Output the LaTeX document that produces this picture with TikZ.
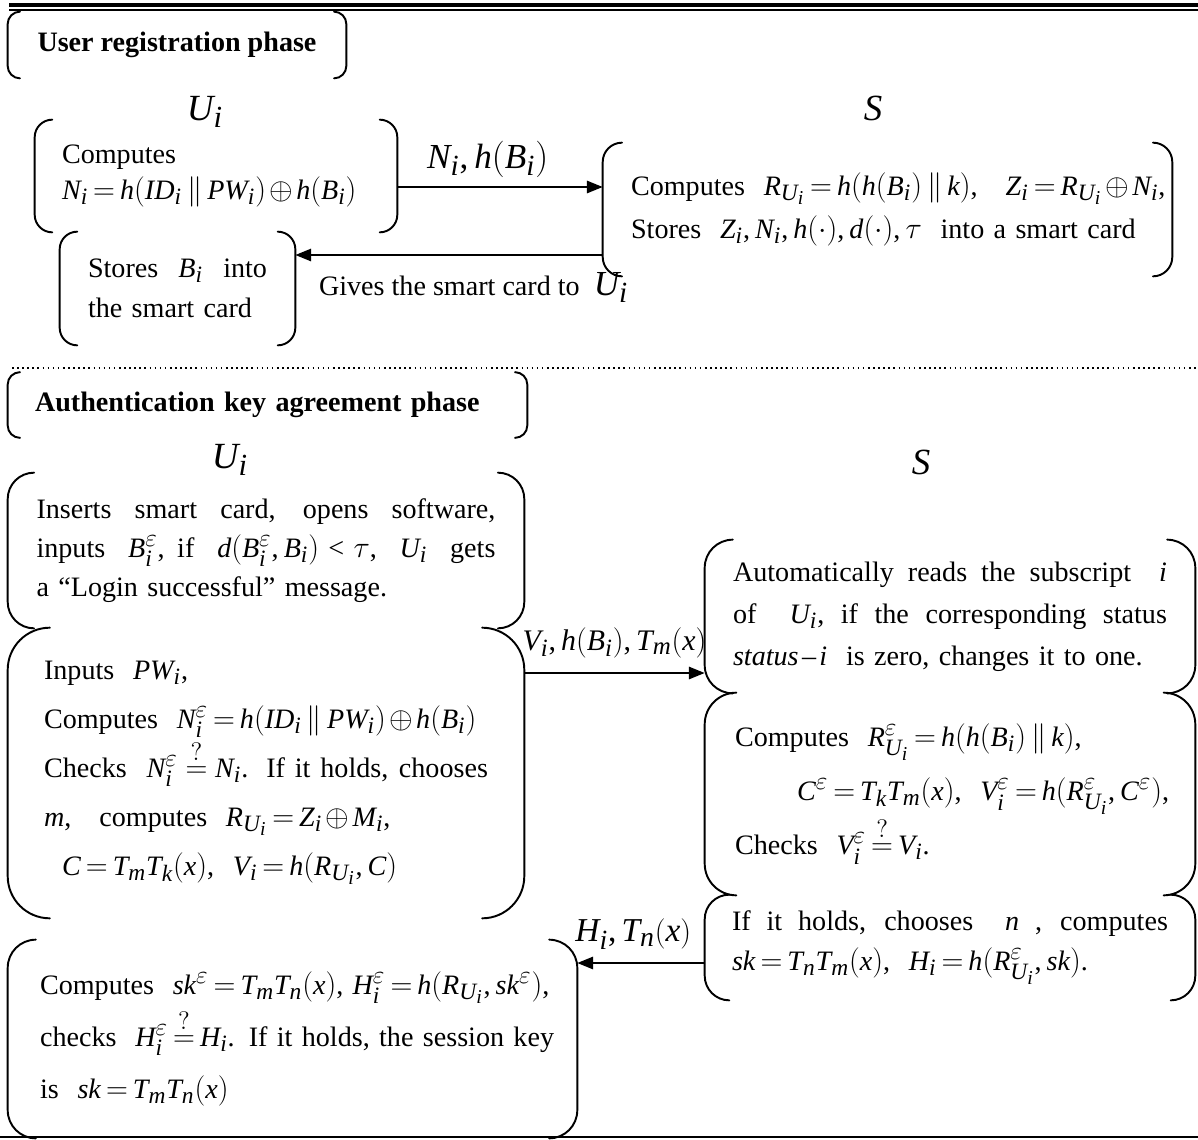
\documentclass[tikz,border=0pt]{standalone}
\usepackage{amsmath}
\usepackage{fontspec}
\setmainfont{Liberation Serif}
\usepackage[italic]{mathastext}
\usetikzlibrary{arrows.meta,calc,positioning}
\thickmuskip=3mu plus 2mu
\medmuskip=2mu plus 1mu
\newcommand{\jl}[1]{{\spaceskip=0pt\xspaceskip=0pt\makebox[\hsize][s]{#1}}}
\newcommand{\bracketsof}[2][12pt]{%
  \draw[brline, rounded corners=#1] ([xshift=#1]#2.north west) -- (#2.north west)
    -- (#2.south west) -- ([xshift=#1]#2.south west);
  \draw[brline, rounded corners=#1] ([xshift=-#1]#2.north east) -- (#2.north east)
    -- (#2.south east) -- ([xshift=-#1]#2.south east);}
\tikzset{
  % bracket outline
  brline/.style = {line width=1.1pt, line cap=round},
  brbox/.style  = {inner sep=0pt, align=left,
                   execute at begin node=\setlength{\parindent}{0pt}},
  lsp/.style    = {font=\fontsize{16}{#1}\selectfont},
  % messages
  msg/.style    = {line width=1.1pt, -{Triangle[length=9pt,width=7pt]}},
  msglab/.style = {font=\fontsize{#1}{#1}\selectfont, inner sep=1pt},
  % labels
  role/.style   = {font=\fontsize{21}{25}\selectfont, inner sep=0pt},
  phase/.style  = {font=\fontsize{16}{20}\selectfont\bfseries, inner sep=0pt},
}

\begin{document}
\begin{tikzpicture}[x=0.02cm, y=-0.02cm]
  \useasboundingbox (0,0) rectangle (1198,1140);
  % frame lines
  \draw[line width=2.2pt] (9,5) -- (1198,5);
  \draw[line width=0.7pt] (9,10) -- (1198,10);
  \draw[dotted, line width=0.9pt] (12,368) -- (1198,368);
  \draw[line width=1.6pt] (0,1137) -- (1198,1137);

  % ---------- User registration phase ----------
  \node[phase, minimum width=6.76cm, minimum height=1.32cm] (t1) at (177,45) {User registration phase};
  \bracketsof[7pt]{t1}
  \node[role] (ur) at (205,112) {$U_i$};
  \node[role] (sr) at (873,108) {$S$};

  \node[brbox, lsp=20, minimum width=7.24cm, minimum height=2.24cm, text width=6.16cm] (r1) at (216,176)
    {Computes\\ \mbox{$N_i = h(ID_i \,\|\, PW_i) \oplus h(B_i)$}};
  \bracketsof[10pt]{r1}
  \node[brbox, lsp=24.5, minimum width=11.38cm, minimum height=2.66cm, text width=10.26cm] (rs) at (887.5,209.5)
    {\mbox{Computes\ \ $R_{U_i} = h(h(B_i)\,\|\,k)$,\ \ \ $Z_i = R_{U_i} \oplus N_i$,}\\
     \mbox{Stores\ \ $Z_i, N_i, h(\cdot), d(\cdot), \tau$\ \ into a smart card}};
  \bracketsof[11pt]{rs}
  \node[brbox, lsp=22.7, minimum width=4.70cm, minimum height=2.26cm, text width=3.58cm] (r2) at (177.5,288.5)
    {\jl{Stores\ \ $B_i$\ \ into}\\ the smart card};
  \bracketsof[10pt]{r2}

  \draw[msg] ($(r1.east)+(0,11)$) coordinate (m1) -- (m1 -| rs.west)
    node[msglab=20, above=4pt, pos=0.44] {$N_i, h(B_i)$};
  \draw[msg] ($(rs.west)+(0,45.5)$) coordinate (m2) -- (m2 -| r2.east)
    node[lsp=20, below=6pt, pos=0.42] {Gives the smart card to\ \ {\fontsize{20}{24}\selectfont$U_i$}};

  % ---------- Authentication key agreement phase ----------
  \node[phase, minimum width=10.38cm, minimum height=1.30cm, text width=9.3cm, align=left] (t2) at (267.5,405)
    {Authentication key agreement phase};
  \bracketsof[7pt]{t2}
  \node[role] (ua) at (230,460) {$U_i$};
  \node[role] (sa) at (921,462) {$S$};

  % user side
  \node[brbox, lsp=22.2, minimum width=10.32cm, minimum height=3.10cm, text width=9.18cm] (a1) at (266,550.5)
    {\jl{Inserts smart card, opens software,}\\
     \jl{inputs\ \ $B_i^{\varepsilon}$, if\ \ $d(B_i^{\varepsilon},B_i) < \tau$,\ \ $U_i$\ \ gets}\\
     a ``Login successful'' message.};
  \bracketsof[15pt]{a1}
  \node[brbox, lsp=27.9, minimum width=10.32cm, minimum height=5.80cm, text width=8.88cm] (a2) at (266,773)
    {Inputs\ \ $PW_i$,\\
     \mbox{Computes\ \ $N_i^{\varepsilon} = h(ID_i \,\|\, PW_i) \oplus h(B_i)$}\\
     \jl{Checks\ \ $N_i^{\varepsilon} \stackrel{?}{=} N_i$. If it holds, chooses}\\
     $m$,\ \ \ computes\ \ $R_{U_i} = Z_i \oplus M_i$,\\
     \hspace*{0.36cm}$C = T_mT_k(x)$,\ \ $V_i = h(R_{U_i},C)$};
  \bracketsof[24pt]{a2}
  \node[brbox, lsp=29.6, minimum width=11.38cm, minimum height=3.96cm, text width=10.10cm] (a3) at (292.5,1039)
    {\mbox{Computes\ \ $sk^{\varepsilon} = T_mT_n(x)$, $H_i^{\varepsilon} = h(R_{U_i},sk^{\varepsilon})$,}\\
     \mbox{checks\ \ $H_i^{\varepsilon} \stackrel{?}{=} H_i$. If it holds, the session key}\\
     is\ \ $sk = T_mT_n(x)$};
  \bracketsof[16pt]{a3}

  % server side
  \node[brbox, lsp=23.9, minimum width=9.80cm, minimum height=3.06cm, text width=8.68cm] (s1) at (950,616.5)
    {\jl{Automatically reads the subscript\ \ $i$}\\
     \jl{of\ \ $U_i$,\ if the corresponding status}\\
     \mbox{$status - i$\ \ is zero, changes it to one.}};
  \bracketsof[16pt]{s1}
  \node[brbox, lsp=30.7, minimum width=9.80cm, minimum height=4.04cm, text width=8.60cm] (s2) at (950,794)
    {Computes\ \ $R_{U_i}^{\varepsilon} = h(h(B_i)\,\|\,k)$,\\
     \mbox{\hspace*{1.24cm}$C^{\varepsilon} = T_kT_m(x)$,\ \ $V_i^{\varepsilon} = h(R_{U_i}^{\varepsilon},C^{\varepsilon})$,}\\
     Checks\ \ $V_i^{\varepsilon} \stackrel{?}{=} V_i$.};
  \bracketsof[18pt]{s2}
  \node[brbox, lsp=22.7, minimum width=9.80cm, minimum height=2.10cm, text width=8.72cm] (s3) at (950,947.5)
    {\jl{If it holds, chooses\ \ $n$\ , computes}\\
     $sk = T_nT_m(x)$,\ \ $H_i = h(R_{U_i}^{\varepsilon},sk)$.};
  \bracketsof[14pt]{s3}

  % messages
  \draw[msg] ($(a2.east)+(0,-100)$) coordinate (m3) -- (m3 -| s1.west)
    node[msglab=17, above=7pt, midway] {$V_i, h(B_i), T_m(x)$};
  \draw[msg] ($(s3.west)+(0,15.5)$) coordinate (m4) -- (m4 -| a3.east)
    node[msglab=19, above=6pt, pos=0.56] {$H_i, T_n(x)$};
\end{tikzpicture}
\end{document}
